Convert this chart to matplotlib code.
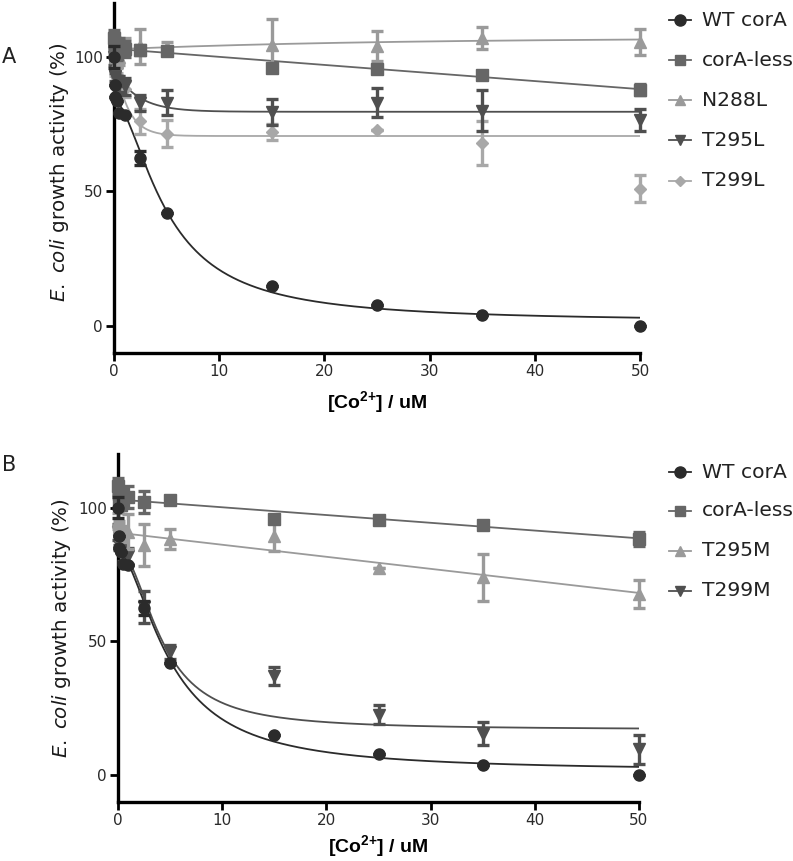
import numpy as np
import matplotlib
matplotlib.use("Agg")
import matplotlib.pyplot as plt
from matplotlib.lines import Line2D

plt.rcParams['font.family'] = ['DejaVu Sans']
plt.rcParams['mathtext.fontset'] = 'custom'
plt.rcParams['mathtext.rm'] = 'DejaVu Sans'
plt.rcParams['mathtext.it'] = 'DejaVu Sans:italic'
plt.rcParams['mathtext.bf'] = 'Liberation Sans:bold'

# ---------------- data ----------------
conc = [0, 0.05, 0.1, 0.25, 0.5, 1, 2.5, 5, 15, 25, 35, 50]

wt_y   = [100, 89.5, 85, 83.5, 79, 78.5, 62.5, 42, 15, 7.8, 4, 0]
wt_err = [4, 0, 0, 0, 0, 0, 2.5, 0, 0, 0, 0, 0]

# panel A
lessA_y   = [107, 105, 103, 101, 104, 103, 102.5, 102, 95.8, 95.6, 93.3, 87.8]
lessA_err = [3, 2, 2, 2, 3, 3, 2, 1.5, 1, 1.5, 1.5, 2]
n288l_y   = [106, 104, 100, 98, 100, 104, 104, 103.5, 104.5, 104, 107, 105.5]
n288l_err = [3, 2, 2, 2, 3, 3, 6.5, 2, 9.5, 5.5, 4, 5]
t295l_y   = [100, 96, 93, 91, 90, 89, 83, 83, 79.5, 83, 80, 76.5]
t295l_err = [3, 2, 2, 2, 3, 3, 3, 4.5, 5, 5.5, 7.5, 4]
t299l_y   = [104, 98, 95, 92, 90, 88, 76, 71.5, 72, 72.7, 68, 51]
t299l_err = [3, 2, 2, 2, 3, 3, 4.5, 5, 3, 0, 8, 5]

# panel B
lessB_y   = [108, 105, 103, 101, 104, 104, 102, 102.8, 95.8, 95.2, 93.6, 88.3]
lessB_err = [3, 2, 2, 2, 3, 4, 4, 1.5, 1.5, 1, 1.5, 2.5]
t295m_y   = [95, 93, 92, 90, 90, 91, 86, 88.3, 89.5, 77.6, 74, 67.7]
t295m_err = [3, 2, 2, 2, 3, 6.6, 7.9, 3.8, 5.7, 0, 8.8, 5.2]
t299m_y   = [91, 88, 86, 85, 83, 82, 62.8, 46, 37, 22.6, 15.5, 9.7]
t299m_err = [3, 2, 2, 2, 3, 3, 6, 2.5, 3.4, 3.5, 4.2, 5.4]

# fitted curve parameters
wt_fit     = dict(top=84, bottom=1.5, ic50=5.0, hill=1.7)     # dose-response
t299m_fit  = dict(top=84, bottom=17, ic50=4.2, hill=2.0)
t295l_fit  = dict(y0=95.3, plateau=79.6, k=0.45)              # one-phase decay
t299l_fit  = dict(y0=100.4, plateau=70.6, k=0.8)
n288l_fit  = dict(y0=102.8, plateau=107.0, k=0.04)
lessA_fit  = dict(b=103.0, m=-0.30)                           # straight line
lessB_fit  = dict(b=103.0, m=-0.29)
t295m_fit  = dict(b=90.6, m=-0.45)

C_WT, C_LESS, C_LIGHT, C_DARK, C_DIA = '#2b2b2b', '#666666', '#9a9a9a', '#4f4f4f', '#a8a8a8'

xs = np.linspace(0.05, 50, 400)
def dose(p):
    return p['bottom'] + (p['top'] - p['bottom']) / (1 + (xs / p['ic50']) ** p['hill'])
def decay(p):
    return p['plateau'] + (p['y0'] - p['plateau']) * np.exp(-p['k'] * xs)
def line(p):
    return p['b'] + p['m'] * xs

W, H = 793, 861
fig = plt.figure(figsize=(W / 100, H / 100), dpi=100)

def px_axes(l, r, b, t):
    return fig.add_axes([l / W, 1 - b / H, (r - l) / W, (b - t) / H])

axA = px_axes(114, 640, 353, 3)
axB = px_axes(118, 639, 802, 454)

XLAB = r'[Co$^{\mathbf{2}\mathbf{+}}$] / uM'
YLAB = r'$\mathit{E.}$ $\mathit{coli}$ growth activity (%)'

def style(ax, xlab_y, ylab_x, ylab_y):
    ax.set_xlim(0, 50)
    ax.set_ylim(-10, 120)
    ax.set_xticks([0, 10, 20, 30, 40, 50])
    ax.set_yticks([0, 50, 100])
    for s in ['top', 'right']:
        ax.spines[s].set_visible(False)
    for s in ['left', 'bottom']:
        ax.spines[s].set_linewidth(2.4)
    ax.tick_params(direction='out', length=6, width=2, labelsize=11, pad=2,
                   colors='black', labelcolor='#2a2a2a')
    ax.set_xlabel(XLAB, fontsize=14, fontweight='bold', family='Liberation Sans')
    ax.set_ylabel(YLAB, fontsize=14.3, color='#1a1a1a')
    ax.xaxis.set_label_coords(0.5, xlab_y)
    ax.yaxis.set_label_coords(ylab_x, ylab_y)

def series(ax, y, err, marker, color, ms, z):
    y = np.array(y, float)
    e = np.array(err, float)
    res = ax.errorbar(conc, y, yerr=e, fmt=marker, color=color, ms=ms, mec=color,
                      capsize=4.5, capthick=2.4, elinewidth=2.4, zorder=z, clip_on=False)
    for a in res.lines[1]:
        a.set_clip_on(False)
    for a in res.lines[2]:
        a.set_clip_on(False)

def fitline(ax, yv, color, z):
    ax.plot(xs, yv, color=color, lw=1.3, zorder=z)

# Panel A
style(axA, -(389 - 353) / 350, (71 - 114) / 526, (353 - 172) / 350)
fitline(axA, line(lessA_fit), C_LESS, 2)
fitline(axA, decay(n288l_fit), C_LIGHT, 2)
fitline(axA, decay(t295l_fit), C_DARK, 2)
fitline(axA, decay(t299l_fit), C_DIA, 2)
fitline(axA, dose(wt_fit), C_WT, 2)
series(axA, t299l_y, t299l_err, 'D', C_DIA, 6, 3)
series(axA, t295l_y, t295l_err, 'v', C_DARK, 8, 4)
series(axA, n288l_y, n288l_err, '^', C_LIGHT, 8, 5)
series(axA, lessA_y, lessA_err, 's', C_LESS, 8, 6)
series(axA, wt_y, wt_err, 'o', C_WT, 8, 7)

# Panel B
style(axB, -(833 - 802) / 348, (73 - 118) / 521, 0.5)
fitline(axB, line(lessB_fit), C_LESS, 2)
fitline(axB, line(t295m_fit), C_LIGHT, 2)
fitline(axB, dose(t299m_fit), C_DARK, 2)
fitline(axB, dose(wt_fit), C_WT, 2)
series(axB, t299m_y, t299m_err, 'v', C_DARK, 8, 4)
series(axB, t295m_y, t295m_err, '^', C_LIGHT, 8, 5)
series(axB, lessB_y, lessB_err, 's', C_LESS, 8, 6)
series(axB, wt_y, wt_err, 'o', C_WT, 8, 7)

# legends (drawn at figure pixel positions)
def legend(entries, ys):
    for (lab, mk, col, ms), yy in zip(entries, ys):
        yf = 1 - yy / H
        fig.add_artist(Line2D([669 / W, 691 / W], [yf, yf], color=col, lw=1.3,
                              transform=fig.transFigure))
        fig.add_artist(Line2D([680 / W], [yf], color=col, marker=mk, ms=ms, mec=col,
                              transform=fig.transFigure))
        fig.text(702 / W, yf, lab, fontsize=14.6, va='center', ha='left', color='#222222')

legend([('WT corA', 'o', C_WT, 8), ('corA-less', 's', C_LESS, 7.5),
        ('N288L', '^', C_LIGHT, 7.5), ('T295L', 'v', C_DARK, 7.5), ('T299L', 'D', C_DIA, 5.5)],
       [20, 60, 100, 140, 181])
legend([('WT corA', 'o', C_WT, 8), ('corA-less', 's', C_LESS, 7.5),
        ('T295M', '^', C_LIGHT, 7.5), ('T299M', 'v', C_DARK, 7.5)],
       [472, 511, 551, 591])

fig.text(2 / W, 1 - 57 / H, 'A', fontsize=15, va='center', ha='left', color='#222222')
fig.text(2 / W, 1 - 465 / H, 'B', fontsize=15, va='center', ha='left', color='#222222')

fig.savefig('out.png', dpi=100)
